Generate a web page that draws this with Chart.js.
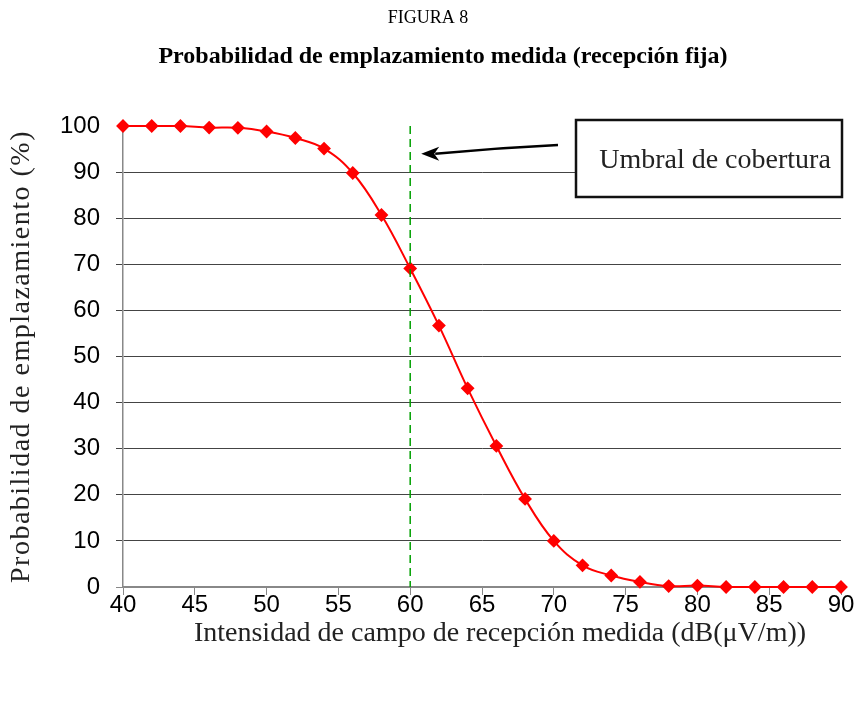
<!DOCTYPE html>
<html>
<head>
<meta charset="utf-8">
<script src="https://cdn.jsdelivr.net/npm/chart.js@4.4.1/dist/chart.umd.min.js"></script>
<style>
  html, body { margin: 0; padding: 0; background: #fff; }
  #wrap { width: 857px; height: 701px; position: relative; }
</style>
</head>
<body>
<div id="wrap"><canvas id="grafico" width="857" height="701"></canvas></div>
<script>
// Datos
const intensidad = [40, 42, 44, 46, 48, 50, 52, 54, 56, 58, 60, 62, 64, 66, 68, 70, 72, 74, 76, 78, 80, 82, 84, 86, 88, 90];
const probabilidad = [100, 100, 100, 99.65, 99.6, 98.8, 97.4, 95.1, 89.8, 80.7, 69.1, 56.7, 43.1, 30.6, 19.1, 10.0, 4.7, 2.5, 1.1, 0.2, 0.3, 0, 0, 0, 0, 0];
const umbral = 60;

const titulo = "FIGURA 8";
const subtitulo = "Probabilidad de emplazamiento medida (recepción fija)";
const tituloX = "Intensidad de campo de recepción medida (dB(μV/m))";
const tituloY = "Probabilidad de emplazamiento (%)";
const textoUmbral = "Umbral de cobertura";

const serif = "'Liberation Serif', 'Times New Roman', serif";
const sans = "'Liberation Sans', Arial, sans-serif";

// Textos, línea de umbral y recuadro con flecha
const extras = {
  id: "extras",
  afterDraw(chart) {
    const ctx = chart.ctx;
    const area = chart.chartArea;
    const xs = chart.scales.x;
    const ys = chart.scales.y;
    ctx.save();
    ctx.fillStyle = "#000";
    ctx.textAlign = "center";
    ctx.textBaseline = "middle";
    ctx.font = "18px " + serif;
    ctx.fillText(titulo, 428, 18);
    ctx.font = "bold 24px " + serif;
    ctx.fillText(subtitulo, 443, 57);

    // titulo eje x
    ctx.fillStyle = "#222";
    ctx.font = "28px " + serif;
    ctx.fillText(tituloX, (area.left + area.right) / 2 + 18, 634);

    // titulo eje y
    ctx.save();
    ctx.translate(22, (area.top + area.bottom) / 2);
    ctx.rotate(-Math.PI / 2);
    ctx.font = "28px " + serif;
    ctx.letterSpacing = "1.5px";
    ctx.fillText(tituloY, 0, 0);
    ctx.restore();

    // linea de umbral
    const xu = xs.getPixelForValue(umbral);
    ctx.strokeStyle = "#00a000";
    ctx.lineWidth = 1.5;
    ctx.setLineDash([8, 5]);
    ctx.beginPath();
    ctx.moveTo(xu, area.top);
    ctx.lineTo(xu, area.bottom);
    ctx.stroke();
    ctx.setLineDash([]);

    // recuadro
    const bx = area.right - 265, by = area.top - 6, bw = 266, bh = 77;
    ctx.fillStyle = "#fff";
    ctx.fillRect(bx, by, bw, bh);
    ctx.strokeStyle = "#111";
    ctx.lineWidth = 2.5;
    ctx.strokeRect(bx, by, bw, bh);
    ctx.fillStyle = "#222";
    ctx.font = "28px " + serif;
    ctx.fillText(textoUmbral, bx + bw / 2 + 6, by + bh / 2 + 2);

    // flecha
    const tipX = xu + 11, tipY = ys.getPixelForValue(94);
    ctx.strokeStyle = "#000";
    ctx.lineWidth = 2.5;
    ctx.beginPath();
    ctx.moveTo(bx - 18, by + 25);
    ctx.quadraticCurveTo(bx - 80, by + 28, tipX + 14, tipY);
    ctx.stroke();
    ctx.fillStyle = "#000";
    ctx.beginPath();
    ctx.moveTo(tipX, tipY);
    ctx.lineTo(tipX + 18, tipY - 7);
    ctx.lineTo(tipX + 13, tipY);
    ctx.lineTo(tipX + 18, tipY + 7);
    ctx.closePath();
    ctx.fill();
    ctx.restore();
  }
};

new Chart(document.getElementById("grafico").getContext("2d"), {
  type: "line",
  data: {
    datasets: [{
      data: intensidad.map((x, i) => ({ x: x, y: probabilidad[i] })),
      borderColor: "#ff0000",
      backgroundColor: "#ff0000",
      borderWidth: 2,
      pointStyle: "rectRot",
      pointRadius: 5.5,
      pointHoverRadius: 5.5,
      tension: 0.4,
      clip: false
    }]
  },
  options: {
    responsive: false,
    animation: false,
    events: [],
    layout: { padding: { top: 126, left: 0, right: 16, bottom: 0 } },
    plugins: { legend: { display: false }, tooltip: { enabled: false } },
    scales: {
      x: {
        type: "linear",
        min: 40,
        max: 90,
        afterFit(scale) { scale.height = 114; },
        ticks: { stepSize: 5, color: "#000", font: { family: sans, size: 24 }, padding: -4, maxRotation: 0 },
        grid: { drawOnChartArea: false, drawTicks: true, tickLength: 8, color: "#888" },
        border: { color: "#888", width: 1.5 }
      },
      y: {
        min: 0,
        max: 100,
        afterFit(scale) { scale.width = 123; },
        ticks: { stepSize: 10, color: "#000", font: { family: sans, size: 24 }, padding: 16 },
        grid: {
          tickLength: 7,
          color: ctx => ctx.tick.value === 100 ? "rgba(0,0,0,0)" : (ctx.tick.value === 0 ? "#888" : "#444"),
          lineWidth: 1
        },
        border: { color: "#888", width: 1.5 }
      }
    }
  },
  plugins: [extras]
});
</script>
</body>
</html>
